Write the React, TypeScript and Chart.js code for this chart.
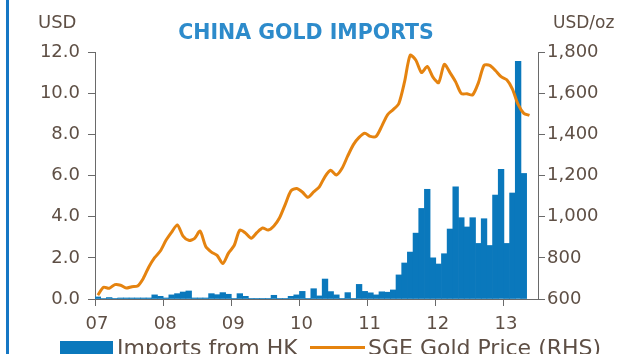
import React, { useEffect, useRef } from "react";
import { Chart, registerables } from "chart.js";

Chart.register(...registerables);

// Monthly data, Jan 2007 onwards
const importsHK = [
  0.1, 0.02, 0.07, 0.03, 0.05, 0.05, 0.05, 0.05, 0.05, 0.05, 0.2, 0.13,
  0.05, 0.2, 0.26, 0.34, 0.39, 0.05, 0.05, 0.05, 0.26, 0.21, 0.31, 0.23,
  0.02, 0.26, 0.13, 0.03, 0.03, 0.03, 0.03, 0.18, 0.03, 0.03, 0.13, 0.2,
  0.37, 0.03, 0.5, 0.15, 0.97, 0.36, 0.2, 0.03, 0.31, 0.03, 0.71, 0.37,
  0.3, 0.2, 0.35, 0.33, 0.44, 1.17, 1.75, 2.28, 3.2, 4.4, 5.33, 2.0,
  1.7, 2.2, 3.4, 5.45, 3.95, 3.5, 3.95, 2.7, 3.9, 2.6, 5.05, 6.3,
  2.7, 5.15, 11.55, 6.1,
];
const sgeGoldPrice = [
  619, 657, 652, 670, 667, 653, 660, 663, 700, 757, 801, 833,
  885, 925, 960, 905, 885, 893, 930, 855, 828, 812, 772, 823,
  860, 935, 920, 895, 922, 945, 935, 955, 995, 1060, 1125, 1137,
  1120, 1094, 1120, 1145, 1195, 1225, 1202, 1235, 1295, 1350, 1385, 1405,
  1390, 1390, 1440, 1495, 1520, 1550, 1655, 1785, 1760, 1700, 1730, 1678,
  1651, 1740, 1700, 1655, 1598, 1597, 1592, 1650, 1735, 1735, 1710, 1680,
  1665, 1620, 1545, 1502, 1492,
];
const yearLabels = ["07", "08", "09", "10", "11", "12", "13"];
const leftTicks = [0, 2, 4, 6, 8, 10, 12];
const rightTicks = [600, 800, 1000, 1200, 1400, 1600, 1800];
const monthsOnAxis = 78;

const BAR = "#0a78bc";
const LINE = "#e5830f";
const TEXT = "#5e4f45";
const AXIS = "#6a6a6a";
const FONT = "'DejaVu Sans', Verdana, sans-serif";

export default function App() {
  const ref = useRef<HTMLCanvasElement | null>(null);

  useEffect(() => {
    if (!ref.current) return;
    const gridCommon = {
      display: true,
      drawOnChartArea: false,
      drawTicks: true,
      offset: false,
      tickLength: 7,
      color: AXIS,
      lineWidth: 1,
    };
    const chart = new Chart(ref.current, {
      type: "bar",
      data: {
        datasets: [
          {
            type: "line",
            label: "SGE Gold Price (RHS)",
            data: sgeGoldPrice.map((v, i) => ({ x: i + 0.5, y: v })),
            borderColor: LINE,
            borderWidth: 3,
            pointRadius: 0,
            tension: 0.25,
            yAxisID: "y1",
            order: 0,
          } as any,
          {
            type: "bar",
            label: "Imports from HK",
            data: importsHK.map((v, i) => ({ x: i + 0.5, y: v })),
            backgroundColor: BAR,
            borderWidth: 0,
            barPercentage: 1,
            categoryPercentage: 1,
            yAxisID: "y",
            order: 1,
          },
        ],
      },
      options: {
        responsive: false,
        animation: false,
        devicePixelRatio: 1,
        layout: { padding: { top: 52, bottom: 0, left: 0, right: 0 } },
        plugins: {
          legend: { display: false },
          title: { display: false },
          tooltip: { enabled: false },
        },
        scales: {
          x: {
            type: "linear",
            position: "bottom",
            offset: false,
            min: 0,
            max: monthsOnAxis,
            grid: gridCommon,
            border: { display: true, color: AXIS, width: 1 },
            afterBuildTicks: (s: any) => {
              s.ticks = yearLabels.map((_, i) => ({ value: i * 12 }));
            },
            afterFit: (s: any) => {
              s.height = 55;
            },
            ticks: {
              autoSkip: false,
              maxRotation: 0,
              padding: 8,
              labelOffset: 2,
              color: TEXT,
              font: { family: FONT, size: 18 },
              callback: (v: any) => yearLabels[Math.round(Number(v) / 12)] ?? "",
            },
          },
          y: {
            type: "linear",
            position: "left",
            min: 0,
            max: 12,
            grid: gridCommon,
            border: { display: true, color: AXIS, width: 1 },
            afterBuildTicks: (s: any) => {
              s.ticks = leftTicks.map((v) => ({ value: v }));
            },
            afterFit: (s: any) => {
              s.width = 95;
            },
            ticks: {
              padding: 8,
              color: TEXT,
              font: { family: FONT, size: 18 },
              callback: (v: any) => Number(v).toFixed(1),
            },
          },
          y1: {
            type: "linear",
            position: "right",
            min: 600,
            max: 1800,
            grid: gridCommon,
            border: { display: true, color: AXIS, width: 1 },
            afterBuildTicks: (s: any) => {
              s.ticks = rightTicks.map((v) => ({ value: v }));
            },
            afterFit: (s: any) => {
              s.width = 80;
            },
            ticks: {
              padding: 2,
              color: TEXT,
              font: { family: FONT, size: 18 },
              callback: (v: any) => Number(v).toLocaleString("en-US"),
            },
          },
        },
      },
    });
    return () => chart.destroy();
  }, []);

  const abs = (o: React.CSSProperties): React.CSSProperties => ({
    position: "absolute",
    whiteSpace: "nowrap",
    fontFamily: FONT,
    lineHeight: 1,
    margin: 0,
    ...o,
  });

  return (
    <div
      style={{
        position: "fixed",
        left: 0,
        top: 0,
        width: 618,
        height: 354,
        overflow: "hidden",
        background: "#fff",
      }}
    >
      <canvas ref={ref} width={618} height={354} style={{ position: "absolute", left: 0, top: 0 }} />
      <div style={abs({ left: 6, top: 0, width: 3, height: 354, background: "#1677c4" })} />
      <div style={abs({ left: 0, top: 22, width: 612, textAlign: "center", fontWeight: "bold", fontSize: 20.5, color: "#2d8bcb" })}>
        CHINA GOLD IMPORTS
      </div>
      <div style={abs({ left: 38, top: 13, fontSize: 18, color: TEXT })}>USD</div>
      <div style={abs({ left: 553, top: 14, fontSize: 17, color: TEXT })}>USD/oz</div>
      <div style={abs({ left: 60, top: 341, width: 53, height: 14, background: BAR })} />
      <div style={abs({ left: 117, top: 337, fontSize: 22, color: TEXT })}>Imports from HK</div>
      <div style={abs({ left: 310, top: 346, width: 55, height: 3, background: LINE })} />
      <div style={abs({ left: 368, top: 337, fontSize: 22, color: TEXT })}>SGE Gold Price (RHS)</div>
    </div>
  );
}
